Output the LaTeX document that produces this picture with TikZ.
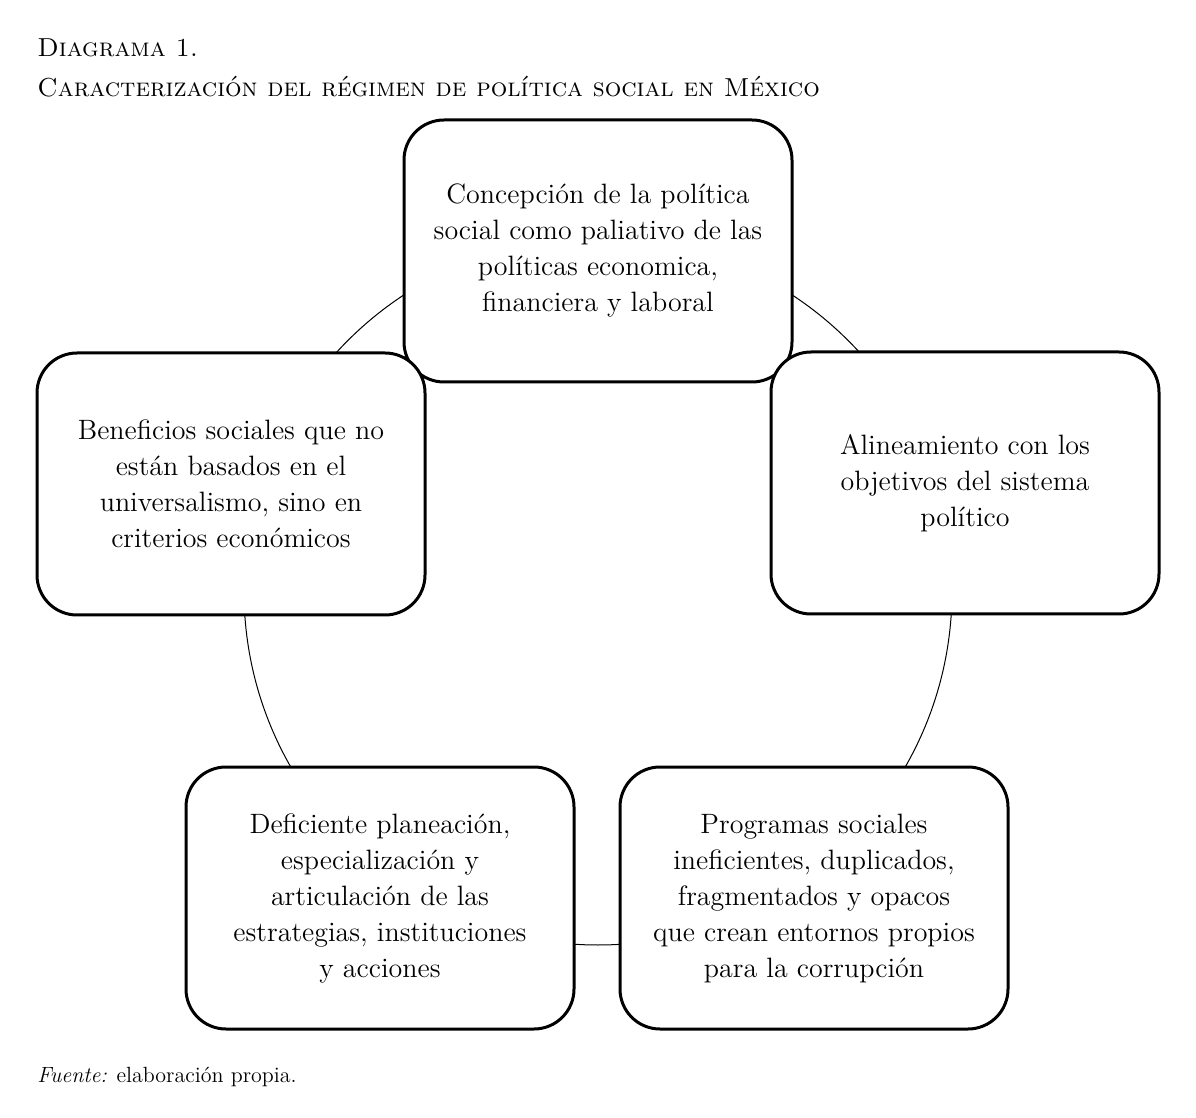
\documentclass[tikz,border=0pt]{standalone}
\usepackage{tikz}
\usetikzlibrary{positioning}

\begin{document}
\begin{tikzpicture}[x=0.5pt,y=-0.5pt,
    caja/.style={draw,line width=1.5pt,fill=white,rounded corners=20pt,
        minimum width=194pt,minimum height=131pt,align=center,
        font=\fontsize{14}{18}\selectfont},
    titulo/.style={anchor=base west,inner sep=0pt,font=\fontsize{13}{16}\selectfont\scshape}]
        \useasboundingbox (0,0) rectangle (1196,1118);
        %\draw[red] (0,0) rectangle (1196,1118);

        % titulo
        \node[titulo] (diag) at (37,57) {Diagrama 1.};
        \node[titulo] (tit) at (37,97) {Caracterización del régimen de política social en México};

        % ciclo
        \coordinate (centro) at (598,591);
        \draw[line width=0.5pt] (centro) circle[radius=177pt];

        \node[caja] (concepcion) at (598,251) {Concepción de la política\\ social como paliativo de las\\ políticas economica,\\ financiera y laboral};
        \node[caja] (deficiente) at (380,898) {Deficiente planeación,\\ especialización y\\ articulación de las\\ estrategias, instituciones\\ y acciones};
        \node[caja] (programas) at (814,898) {Programas sociales\\ ineficientes, duplicados,\\ fragmentados y opacos\\ que crean entornos propios\\ para la corrupción};
        \node[caja] (beneficios) at (231,484) {Beneficios sociales que no\\ están basados en el\\ universalismo, sino en\\ criterios económicos};
        \node[caja] (alineamiento) at (965,483) {Alineamiento con los\\ objetivos del sistema\\ político};

        % fuente
        \node[anchor=base west,inner sep=0pt,font=\fontsize{11}{13}\selectfont] (fuente) at (37,1082) {\textit{Fuente:} elaboración propia.};
\end{tikzpicture}
\end{document}
